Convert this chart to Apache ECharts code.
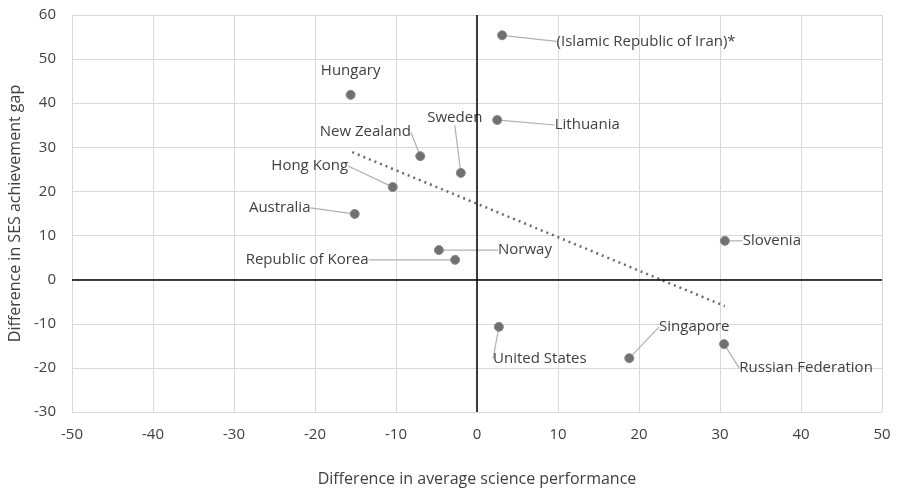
<!DOCTYPE html>
<html>
<head>
<meta charset="utf-8">
<script src="https://cdn.jsdelivr.net/npm/echarts@6/dist/echarts.min.js"></script>
<style>
  html, body { margin: 0; padding: 0; background: #fff; }
  #chart { width: 897px; height: 492px; }
</style>
</head>
<body>
<div id="chart"></div>
<script>
// datos
const paises = ["(Islamic Republic of Iran)*", "Hungary", "Sweden", "Lithuania", "New Zealand",
  "Hong Kong", "Australia", "Norway", "Republic of Korea", "Slovenia",
  "United States", "Singapore", "Russian Federation"];
const difCiencia = [3.1, -15.6, -2.0, 2.5, -7.0, -10.4, -15.1, -4.7, -2.7, 30.6, 2.7, 18.8, 30.5];
const difSES = [55.4, 41.9, 24.2, 36.2, 28.0, 21.0, 14.9, 6.7, 4.5, 8.8, -10.7, -17.8, -14.6];

// linea de tendencia (extremos)
const tendX = [-15.4, 30.6];
const tendY = [28.9, -6.0];

// desplazamiento de cada etiqueta respecto al punto (px)
const desplaz = [
  [144, 6], [0, -24], [-6, -55], [90, 5], [-55, -24],
  [-83, -21], [-75, -6], [86, 0], [-148, 0], [47, 0],
  [41, 32], [65, -31], [82, 24]
];

const fuente = "'Open Sans', 'Noto Sans', sans-serif";

const puntos = paises.map((p, i) => {
  const d = { name: p, value: [difCiencia[i], difSES[i]] };
  if (p === "Hungary") d.labelLine = { show: false };
  return d;
});

const chart = echarts.init(document.getElementById('chart'));
chart.setOption({
  animation: false,
  grid: { left: 72, right: 15, top: 15, bottom: 80, outerBoundsMode: 'none' },
  xAxis: {
    type: 'value', min: -50, max: 50, interval: 10,
    name: 'Difference in average science performance',
    nameLocation: 'middle', nameGap: 59,
    nameTextStyle: { color: '#404040', fontSize: 16, fontFamily: fuente },
    axisLine: { show: false }, axisTick: { show: false },
    axisLabel: { color: '#404040', fontSize: 15, fontFamily: fuente, margin: 15 },
    splitLine: { lineStyle: { color: '#d9d9d9', width: 1 } }
  },
  yAxis: {
    type: 'value', min: -30, max: 60, interval: 10,
    name: 'Difference in SES achievement gap',
    nameLocation: 'middle', nameGap: 47,
    nameTextStyle: { color: '#404040', fontSize: 16, fontFamily: fuente },
    axisLine: { show: false }, axisTick: { show: false },
    axisLabel: { color: '#404040', fontSize: 15, fontFamily: fuente, margin: 16 },
    splitLine: { lineStyle: { color: '#d9d9d9', width: 1 } }
  },
  series: [
    {
      type: 'line',
      data: tendX.map((x, i) => [x, tendY[i]]),
      symbol: 'none',
      lineStyle: { color: '#6b6b6b', width: 2.5, type: [2, 4] },
      markLine: {
        silent: true, symbol: 'none',
        label: { show: false },
        lineStyle: { color: '#000', width: 1.5, type: 'solid' },
        data: [{ xAxis: 0 }, { yAxis: 0 }]
      },
      z: 3
    },
    {
      type: 'scatter',
      data: puntos,
      symbolSize: 9,
      itemStyle: { color: '#707070', borderColor: '#888', borderWidth: 1, opacity: 1 },
      label: {
        show: true, position: 'inside',
        formatter: p => p.name,
        color: '#404040', fontSize: 15, fontFamily: fuente
      },
      labelLine: { show: true, lineStyle: { color: '#b0b0b0', width: 1.2 } },
      labelLayout: p => {
        const o = desplaz[p.dataIndex];
        return { dx: o[0], dy: o[1] };
      },
      z: 4
    }
  ]
});
</script>
</body>
</html>
